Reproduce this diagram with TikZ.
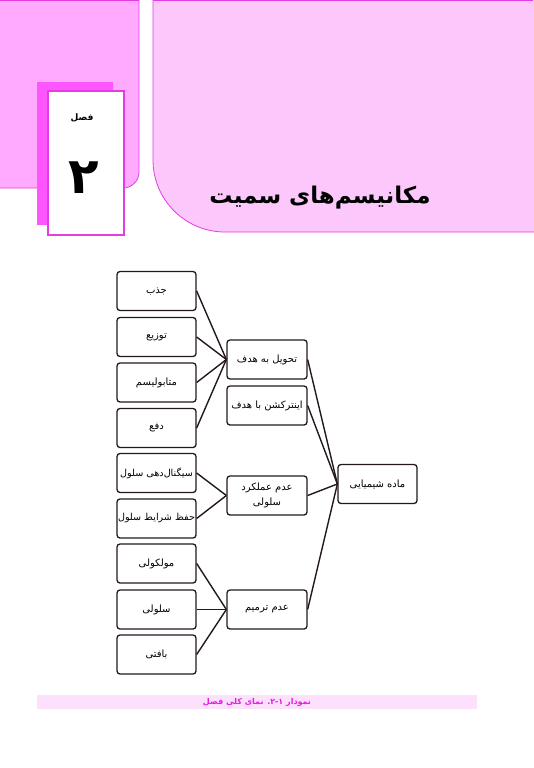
\documentclass[tikz,border=0pt]{standalone}
\usepackage{fontspec}
\usepackage{tikz}
\newfontfamily\fa[Script=Arabic]{DejaVu Sans}
\TeXXeTstate=1
\definecolor{xpink}{RGB}{255,170,255}
\definecolor{xlight}{RGB}{252,200,252}
\definecolor{xmag}{RGB}{255,85,255}
\definecolor{xedge}{RGB}{228,60,228}
\definecolor{xband}{RGB}{252,224,252}
\definecolor{xcap}{RGB}{225,30,225}
\definecolor{xline}{RGB}{35,25,25}
\newcommand{\rtl}[1]{\beginR #1\endR}

\begin{document}
\begin{tikzpicture}[x=1pt,y=-1pt]
\tikzset{leaf/.style={draw=xline,line width=1.3pt,rounded corners=3pt,minimum width=79pt,minimum height=39pt,inner sep=1pt,font=\fa\fontsize{10}{14}\selectfont}}
\tikzset{tight/.style={leaf,inner xsep=0pt,font=\fa\fontsize{9.6}{14}\selectfont}}
\tikzset{mid/.style={leaf,minimum width=80pt,align=center,font=\fa\fontsize{10}{15}\selectfont}}
\tikzset{conn/.style={draw=xline,line width=1.4pt}}
\tikzset{panel/.style={draw=xedge,line width=0.8pt}}
\useasboundingbox (0,0) rectangle (533,768);
% header
\draw[panel,fill=xpink,rounded corners=16pt] (-20,-200) -- (139,-200) -- (139,188) -- (-20,188) -- cycle;
\draw[panel,fill=xlight,rounded corners=72pt] (153,-200) -- (700,-200) -- (700,232) -- (153,232) -- cycle;
\draw[panel] (0,0.5) -- (139,0.5);
\draw[panel] (153,0.5) -- (533,0.5);
\fill[xmag] (37,82) rectangle (113,225);
\draw[draw=xedge,line width=1.2pt,fill=white] (48,91) rectangle (124,235);
\node[font=\fa\bfseries\fontsize{9}{10}\selectfont] (fasl) at (82,118) {فصل};
\node[font=\fa\bfseries\fontsize{50}{52}\selectfont] (num) at (84,178) {۲};
\node[font=\fa\bfseries\fontsize{23}{28}\selectfont] (title) at (320,198) {\rtl{مکانیسم‌های سمیت}};
% left column
\def \lx {156.5}
\node[leaf] at (\lx,291) (jazb) {\rtl{جذب}};
\node[leaf] at (\lx,337) (tozi) {\rtl{توزیع}};
\node[leaf] at (\lx,382.5) (metab) {\rtl{متابولیسم}};
\node[leaf] at (\lx,428) (dafe) {\rtl{دفع}};
\node[tight] at (\lx,473) (signal) {\rtl{سیگنال‌دهی سلول}};
\node[tight] at (\lx,518.5) (hefz) {\rtl{حفظ شرایط سلول}};
\node[leaf] at (\lx,563.5) (molek) {\rtl{مولکولی}};
\node[leaf] at (\lx,609.5) (sellul) {\rtl{سلولی}};
\node[leaf] at (\lx,654.5) (bafti) {\rtl{بافتی}};
% middle column
\def \mx {267}
\node[mid] at (\mx,359.5) (tahvil) {\rtl{تحویل به هدف}};
\node[mid] at (\mx,405.5) (inter) {\rtl{اینترکشن با هدف}};
\node[mid] at (\mx,495.5) (amal) {\rtl{عدم عملکرد}\\\rtl{سلولی}};
\node[mid] at (\mx,609.5) (tarmim) {\rtl{عدم ترمیم}};
\node[leaf] at (377.5,484) (madde) {\rtl{ماده شیمیایی}};
\draw[conn] (jazb.east) -- (tahvil.west);
\draw[conn] (tozi.east) -- (tahvil.west);
\draw[conn] (metab.east) -- (tahvil.west);
\draw[conn] (dafe.east) -- (tahvil.west);
\draw[conn] (signal.east) -- (amal.west);
\draw[conn] (hefz.east) -- (amal.west);
\draw[conn] (molek.east) -- (tarmim.west);
\draw[conn] (sellul.east) -- (tarmim.west);
\draw[conn] (bafti.east) -- (tarmim.west);
\draw[conn] (tahvil.east) -- (madde.west);
\draw[conn] (inter.east) -- (madde.west);
\draw[conn] (amal.east) -- (madde.west);
\draw[conn] (tarmim.east) -- (madde.west);
% caption
\fill[xband] (37,695) rectangle (477,709);
\node[font=\fa\bfseries\fontsize{8}{10}\selectfont,text=xcap] at (257,702) (cap) {\rtl{نمودار \beginL۲-۱\endL. نمای کلی فصل}};
\end{tikzpicture}
\end{document}
